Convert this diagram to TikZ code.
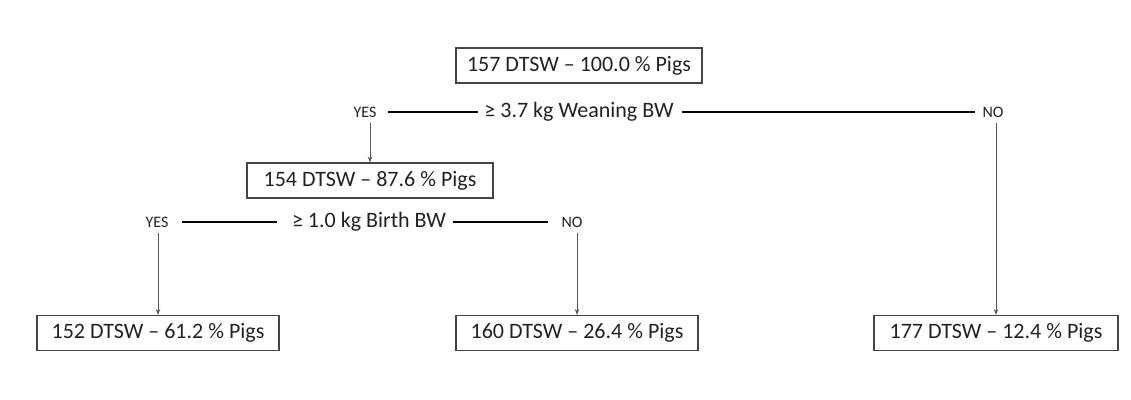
\documentclass[tikz,border=0pt]{standalone}
\usepackage{fontspec}
\setmainfont{Carlito}
\usetikzlibrary{arrows.meta}
\definecolor{txt}{HTML}{222222}
\definecolor{boxc}{HTML}{444444}
\definecolor{arrc}{HTML}{555555}
\tikzset{
  resbox/.style={draw=boxc, line width=1.1pt, minimum width=242pt, minimum height=35pt,
    inner sep=0pt, font=\fontsize{22}{24}\selectfont, text=txt},
  answer/.style={inner sep=0pt, font=\fontsize{16}{18}\selectfont, text=txt},
  crit/.style={inner sep=0pt, font=\fontsize{22}{24}\selectfont, text=txt},
  hline/.style={draw=black, line width=1.6pt},
  darrow/.style={draw=arrc, line width=1pt, -{Stealth[length=6pt,width=4.5pt]}},
}
\begin{document}
\begin{tikzpicture}[x=1pt,y=-1pt]
\useasboundingbox (0,0) rectangle (1131,399);
\fill[white] (0,0) rectangle (1131,399);

\node[resbox, minimum width=246pt] (root) at (579,65.5) {157 DTSW – 100.0 \% Pigs};

\node[answer] (yes1) at (365,112) {YES};
\node[crit] (crit1) at (579,112) {≥ 3.7 kg Weaning BW};
\node[answer] (no1) at (993,112) {NO};

\node[resbox, minimum width=246pt] (b154) at (370,180.5) {154 DTSW – 87.6 \% Pigs};

\node[answer] (yes2) at (157,222) {YES};
\node[crit] (crit2) at (369,222) {≥ 1.0 kg Birth BW};
\node[answer] (no2) at (572,222) {NO};

\node[resbox] (b152) at (158,333) {152 DTSW – 61.2 \% Pigs};
\node[resbox] (b160) at (577,333) {160 DTSW – 26.4 \% Pigs};
\node[resbox, minimum width=244pt] (b177) at (996,333) {177 DTSW – 12.4 \% Pigs};

\draw[hline, shorten <=11pt, shorten >=6pt] (yes1.east) -- (crit1.west);
\draw[hline, shorten <=8pt, shorten >=7.5pt] (crit1.east) -- (no1.west);
\draw[hline, shorten <=13.5pt, shorten >=15pt] (yes2.east) -- (crit2.west);
\draw[hline, shorten <=7pt, shorten >=13.5pt] (crit2.east) -- (no2.west);

\draw[darrow, shorten <=6pt] (b154.north |- yes1.south) -- (b154.north);
\draw[darrow, shorten <=6pt] (b152.north |- yes2.south) -- (b152.north);
\draw[darrow, shorten <=6pt] (b160.north |- no2.south) -- (b160.north);
\draw[darrow, shorten <=6pt] (b177.north |- no1.south) -- (b177.north);
\end{tikzpicture}
\end{document}
